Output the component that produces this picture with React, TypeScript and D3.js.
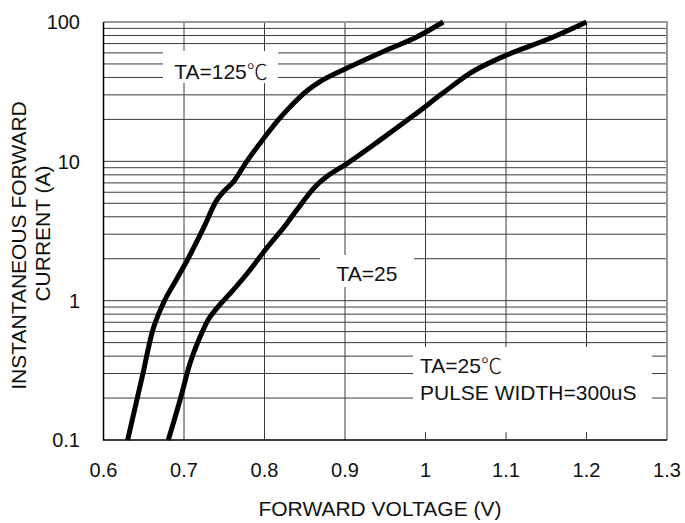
import React, { useRef, useEffect } from 'react';
import * as d3 from 'd3';

// forward voltage (V) and current (A)
const voltageHot = [0.63, 0.649, 0.66, 0.674, 0.691, 0.705, 0.724, 0.741, 0.749, 0.761, 0.778, 0.799, 0.819, 0.828, 0.854, 0.869, 0.902, 0.952, 0.989, 1.022];
const currentHot = [0.1, 0.3, 0.58, 0.95, 1.43, 2.0, 3.3, 5.3, 6.05, 7.1, 10, 14.6, 20.4, 23.3, 32.5, 37.3, 46.5, 63, 78, 100];

const voltageRoom = [0.6805, 0.695, 0.7075, 0.72, 0.73, 0.7406, 0.761, 0.782, 0.8006, 0.828, 0.84, 0.865, 0.877, 0.902, 0.9435, 0.985, 1.022, 1.055, 1.101, 1.155, 1.2];
const currentRoom = [0.1, 0.193, 0.355, 0.55, 0.73, 0.88, 1.19, 1.66, 2.3, 3.6, 4.47, 6.76, 7.74, 9.6, 14.2, 21.3, 31, 42.8, 58, 76.4, 100];

const xTicks = [0.6, 0.7, 0.8, 0.9, 1, 1.1, 1.2, 1.3];
const yTicks = [0.1, 1, 10, 100];

const width = 685;
const height = 523;
const plot = { left: 103.5, right: 667, top: 22, bottom: 440 };
const font = '"Liberation Sans", Arial, sans-serif';

const App: React.FC = () => {
  const ref = useRef<SVGSVGElement>(null);

  useEffect(() => {
    const svg = d3.select(ref.current);
    svg.selectAll('*').remove();

    const x = d3.scaleLinear().domain([0.6, 1.3]).range([plot.left, plot.right]);
    const y = d3.scaleLog().domain([0.1, 100]).range([plot.bottom, plot.top]);

    /** grid */
    const grid = svg.append('g').attr('stroke', '#3a3a3a').attr('stroke-width', 1);
    grid
      .selectAll('line.h')
      .data(y.ticks().filter((v) => v > 0.1 && v < 100))
      .join('line')
      .attr('x1', plot.left)
      .attr('x2', plot.right)
      .attr('y1', (d) => y(d))
      .attr('y2', (d) => y(d));
    grid
      .selectAll('line.v')
      .data(xTicks.slice(1, -1))
      .join('line')
      .attr('x1', (d) => x(d))
      .attr('x2', (d) => x(d))
      .attr('y1', plot.top)
      .attr('y2', plot.bottom);

    /** white boxes behind the notes */
    const boxes = [
      [163, 51, 115, 32],
      [320, 255, 94, 32],
      [413, 347, 239, 85],
    ];
    svg
      .append('g')
      .selectAll('rect')
      .data(boxes)
      .join('rect')
      .attr('x', (d) => d[0])
      .attr('y', (d) => d[1])
      .attr('width', (d) => d[2])
      .attr('height', (d) => d[3])
      .attr('fill', '#fff');

    /** frame */
    svg
      .append('path')
      .attr('d', `M${plot.left},${plot.top}H${plot.right}V${plot.bottom}`)
      .attr('fill', 'none')
      .attr('stroke', '#999')
      .attr('stroke-width', 2);
    svg
      .append('path')
      .attr('d', `M${plot.left},${plot.top}V${plot.bottom}H${plot.right}`)
      .attr('fill', 'none')
      .attr('stroke', '#000')
      .attr('stroke-width', 1.5);

    /** curves */
    const line = d3
      .line<[number, number]>()
      .x((d) => x(d[0]))
      .y((d) => y(d[1]))
      .curve(d3.curveMonotoneX);
    const series = [
      voltageHot.map((v, i) => [v, currentHot[i]] as [number, number]),
      voltageRoom.map((v, i) => [v, currentRoom[i]] as [number, number]),
    ];
    svg
      .append('g')
      .selectAll('path')
      .data(series)
      .join('path')
      .attr('d', (d) => line(d))
      .attr('fill', 'none')
      .attr('stroke', '#000')
      .attr('stroke-width', 5)
      .attr('stroke-linejoin', 'round');

    /** tick labels */
    const text = svg.append('g').attr('font-family', font).attr('fill', '#111');
    text
      .selectAll('text.yt')
      .data(yTicks)
      .join('text')
      .attr('x', 80)
      .attr('y', (d) => y(d))
      .attr('dy', '0.36em')
      .attr('text-anchor', 'end')
      .attr('font-size', 20)
      .text((d) => String(d));
    text
      .append('g')
      .selectAll('text')
      .data(xTicks)
      .join('text')
      .attr('x', (d) => x(d))
      .attr('y', 477)
      .attr('text-anchor', 'middle')
      .attr('font-size', 20)
      .text((d) => String(d));

    /** axis titles */
    text
      .append('text')
      .attr('x', 380)
      .attr('y', 516)
      .attr('text-anchor', 'middle')
      .attr('font-size', 21)
      .text('FORWARD VOLTAGE (V)');
    text
      .append('text')
      .attr('transform', 'translate(26,245.5) rotate(-90)')
      .attr('text-anchor', 'middle')
      .attr('font-size', 21)
      .text('INSTANTANEOUS FORWARD');
    text
      .append('text')
      .attr('transform', 'translate(50,233.5) rotate(-90)')
      .attr('text-anchor', 'middle')
      .attr('font-size', 21)
      .text('CURRENT (A)');

    /** notes */
    const degree = (sel: any, label: string) => {
      sel.append('tspan').text(label);
      sel
        .append('tspan')
        .attr('font-family', '"Noto Sans CJK SC", sans-serif')
        .attr('font-weight', 300)
        .text('℃');
    };
    text
      .append('text')
      .attr('x', 221)
      .attr('y', 79)
      .attr('text-anchor', 'middle')
      .attr('font-size', 21)
      .call(degree, 'TA=125');
    text
      .append('text')
      .attr('x', 367)
      .attr('y', 281)
      .attr('text-anchor', 'middle')
      .attr('font-size', 21)
      .text('TA=25');
    text
      .append('text')
      .attr('x', 420)
      .attr('y', 373)
      .attr('font-size', 21)
      .call(degree, 'TA=25');
    text
      .append('text')
      .attr('x', 420)
      .attr('y', 400)
      .attr('font-size', 21)
      .text('PULSE WIDTH=300uS');
  }, []);

  return (
    <svg
      ref={ref}
      width={width}
      height={height}
      viewBox={`0 0 ${width} ${height}`}
      style={{ position: 'absolute', left: 0, top: 0, background: '#fff' }}
    />
  );
};

export default App;
